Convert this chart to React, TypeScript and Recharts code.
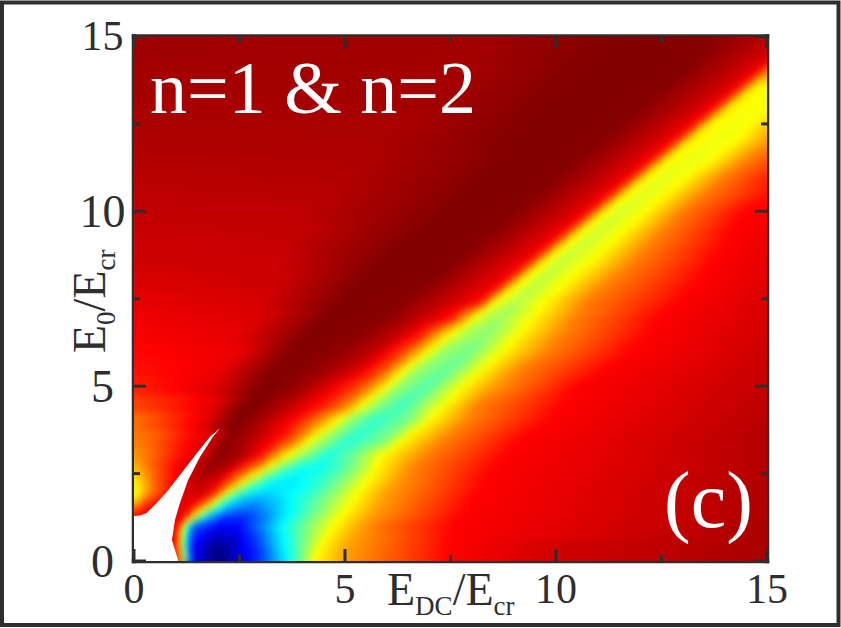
import { Scatter, ScatterChart, XAxis, YAxis } from "recharts";

const CHART_W = 841;
const CHART_H = 628;
const MARGIN_LEFT = 134;
const MARGIN_TOP = 36.5;
const PLOT_W = 633;
const PLOT_H = 524.5;
const INK = "#2e2e2e";
const SERIF = "'Liberation Serif', 'Times New Roman', serif";
// the bands run along this direction (px sideways per px up), so rows are tilted to follow them
const TILT = PLOT_W / PLOT_H;

const xRange = [0, 15];
const yRange = [0, 15];
const tickValues = [0, 2.5, 5, 7.5, 10, 12.5, 15];

// colour scale knots, value 0..100
const jetKnots = [0, 12.5, 37.5, 62.5, 87.5, 100];
const jetColors = [
  [0, 0, 128],
  [0, 0, 255],
  [0, 255, 255],
  [255, 255, 0],
  [255, 0, 0],
  [128, 0, 0],
];

// E0 level of each row
const levels = [
  0, 0.25, 0.5, 0.75, 1, 1.25, 1.5, 1.75, 2, 2.25, 2.5, 2.75, 3, 3.5, 4, 4.5, 5, 5.5, 6, 6.5, 7,
  7.5, 8, 8.5, 9, 9.5, 10, 10.5, 11, 11.5, 12, 12.5, 13, 13.5, 14, 14.5, 15,
];

// read along each row: EDC, value, EDC, value ...
const rowReadings = [
  [0, 88, 1.05, 88, 1.12, 78, 1.18, 62, 1.3, 37, 1.4, 14, 1.9, 2, 2.1, 1, 2.6, 11, 3.1, 20, 3.55, 33, 3.9, 45, 4.3, 62.5, 5, 72, 7.5, 87.5, 10, 92, 15, 96],
  [0, 88, 1.02, 88, 1.07, 78, 1.14, 62, 1.27, 37, 1.38, 12, 1.87, 1, 2.1, 0, 2.5, 9, 3, 17, 3.45, 33, 3.9, 46, 4.35, 62.5, 4.95, 71, 7.5, 87.5, 10, 92, 15, 96],
  [0, 88, 1, 88, 1.05, 78, 1.12, 62, 1.25, 35, 1.38, 15, 1.9, 3, 2.3, 5, 2.9, 18, 3.45, 34, 3.95, 47, 4.45, 62.5, 5.05, 71, 7.5, 87.5, 10, 92, 15, 96],
  [0, 88, 1, 88, 1.08, 75, 1.15, 62, 1.27, 35, 1.4, 18, 1.95, 7, 2.4, 9, 3, 21, 3.46, 35, 4, 48, 4.6, 62.5, 5.2, 71, 7.55, 87.5, 15, 96],
  [0, 88, 1, 88, 1.1, 78, 1.17, 62, 1.3, 37, 1.44, 20, 2.04, 12, 2.5, 13, 3, 25, 3.46, 37, 4.1, 50, 4.72, 62.5, 5.4, 72, 6, 78, 7.6, 87.5, 15, 96],
  [0, 87, 0.7, 90, 1.05, 90, 1.2, 85, 1.32, 72, 1.48, 55, 1.7, 33, 2.1, 17, 2.6, 16, 3.1, 24, 3.55, 35, 4.1, 47, 4.9, 62.5, 5.6, 72, 7.7, 87.5, 15, 95.5],
  [0, 78, 0.3, 87, 0.8, 90, 1.15, 90, 1.35, 86, 1.5, 75, 1.7, 62, 1.95, 42, 2.3, 26, 2.8, 23, 3.3, 30, 4, 42, 4.5, 51, 5.05, 62.5, 5.8, 72, 7.9, 87.5, 15, 95.5],
  [0, 64, 0.4, 82, 0.8, 87, 1.2, 90, 1.45, 90, 1.7, 83, 1.85, 72, 1.98, 62, 2.2, 45, 2.55, 31, 2.95, 28, 3.4, 33, 4, 42, 4.6, 52, 5.2, 62.5, 5.9, 72, 8, 87.5, 15, 95.5],
  [0, 60, 0.53, 78, 0.85, 86, 1.25, 90, 1.6, 93, 1.9, 88, 2.1, 74, 2.27, 62, 2.5, 48, 2.8, 38, 3.2, 34, 3.55, 36, 4.1, 40, 4.57, 47, 5, 56, 5.35, 62.5, 6, 72, 8.2, 87.5, 15, 95.5],
  [0, 62, 0.5, 78, 0.9, 86, 1.2, 91, 1.55, 94, 1.95, 90, 2.3, 78, 2.6, 62, 2.85, 50, 3.2, 38, 3.75, 35, 4.4, 42, 5, 52, 5.5, 62.5, 6.3, 73, 8.3, 87.5, 15, 95.5],
  [0, 66, 0.5, 78, 0.95, 87, 1.3, 91, 1.7, 97, 2.1, 93, 2.6, 76, 2.92, 62, 3.2, 50, 3.55, 40, 4, 37, 4.7, 44, 5.2, 53, 5.65, 62.5, 6.5, 74, 8.4, 87.5, 15, 95],
  [0, 70, 0.5, 79, 1.05, 87.5, 1.4, 92, 1.85, 98, 2.3, 95, 2.95, 77, 3.28, 62, 3.6, 50, 3.95, 41, 4.4, 38, 5, 45, 5.4, 53, 5.75, 62.5, 6.7, 75, 8.6, 87.5, 15, 95],
  [0, 73, 0.45, 78, 1.16, 87.5, 1.6, 92, 2, 99, 2.5, 96, 3, 86, 3.3, 74, 3.65, 62, 4, 52, 4.57, 40, 5.2, 49, 5.85, 62.5, 6.9, 75, 8.8, 87.5, 15, 95],
  [0, 75, 0.5, 78, 1.3, 87, 1.9, 92, 2.2, 99, 2.6, 97, 3.4, 87, 3.9, 75, 4.22, 62, 4.6, 52, 5.15, 41, 6, 50, 6.4, 62.5, 7.4, 75, 9.2, 87.5, 15, 95],
  [0, 76, 1, 84, 1.8, 91, 2.2, 98, 2.5, 100, 3, 96, 3.77, 87.5, 4.35, 75, 4.83, 62, 5.1, 52, 5.7, 42, 6.5, 50, 6.95, 62.5, 7.9, 75, 9.8, 87.5, 15, 94.5],
  [0, 81, 1, 85, 2, 91, 2.6, 99, 2.9, 100, 3.5, 96, 4.4, 87, 4.95, 78, 5.25, 70, 5.45, 62, 5.8, 52, 6.4, 43, 7.4, 62.5, 8.2, 75, 10.2, 87.5, 15, 94],
  [0, 84.5, 1, 87.5, 2, 91, 2.9, 99, 3.3, 100, 4, 97, 4.9, 87.5, 5.4, 80, 5.7, 72, 6, 62, 6.3, 52, 6.95, 45, 7.8, 62.5, 8.5, 72, 10.5, 87.5, 15, 93.5],
  [0, 86, 2, 89, 3.2, 99, 3.6, 100, 4.5, 97.5, 5.2, 92.5, 5.55, 87.5, 5.95, 80, 6.2, 72, 6.45, 62, 6.8, 52, 7.5, 47, 8.3, 63, 9.2, 75, 11.2, 87.5, 15, 93],
  [0, 87, 2.5, 89.5, 3.6, 99, 4, 100, 5, 98, 5.7, 93.5, 6.05, 88, 6.4, 81, 6.7, 72, 7, 62, 7.35, 52, 8, 49, 8.75, 63, 9.8, 75, 11.8, 87.5, 15, 92.5],
  [0, 88, 2.5, 90, 4, 99, 4.4, 100, 5.5, 98.5, 6.2, 94, 6.6, 89, 6.95, 82, 7.2, 72, 7.55, 62, 7.9, 54, 8.4, 51, 9.15, 63, 10.2, 75, 12.2, 87.5, 15, 92],
  [0, 89, 3, 91, 4.4, 99, 4.8, 100, 6, 99, 6.7, 94.5, 7.2, 90, 7.55, 86, 7.75, 78, 7.95, 70, 8.1, 62, 8.45, 55, 8.75, 53, 9.5, 63, 10.5, 75, 12.5, 87.5, 15, 91.5],
  [0, 90, 3, 91.5, 4.8, 99, 5.2, 100, 6.5, 99, 7.2, 95, 7.7, 91.5, 8.2, 88, 8.35, 83, 8.5, 72, 8.62, 63, 9.15, 55, 9.85, 63, 10.8, 75, 13, 87.5, 15, 91],
  [0, 91, 3.5, 92.5, 5.2, 99, 5.6, 100, 7, 99.5, 7.7, 95.5, 8.2, 92, 8.7, 88.5, 8.85, 84, 9, 72, 9.15, 64, 9.6, 56, 10.3, 63, 11.3, 75, 13.4, 87.5, 15, 90.5],
  [0, 92, 3.5, 92.5, 5.6, 99, 6, 100, 7.5, 99.5, 8.2, 95.5, 8.7, 92, 9.2, 88.5, 9.35, 84, 9.5, 72, 9.65, 64, 10.05, 56.5, 10.8, 63, 11.8, 75, 13.7, 87.5, 15, 90],
  [0, 92.5, 3.5, 93, 6, 99, 6.5, 100, 8, 99.5, 8.7, 96, 9.2, 92.5, 9.7, 88.5, 9.85, 84, 10, 72, 10.15, 64, 10.55, 57, 11.25, 63, 12.2, 75, 14, 87.5, 15, 89.5],
  [0, 93, 4, 93.5, 6.5, 99, 7, 100, 8.5, 99.5, 9.2, 96, 9.7, 92.5, 10.2, 88.5, 10.35, 84, 10.5, 72, 10.65, 64, 11.05, 57.5, 11.7, 63, 12.6, 75, 14.2, 87.5, 15, 89],
  [0, 93.5, 4, 94, 7, 99, 7.5, 100, 9, 99.5, 9.7, 96, 10.2, 93, 10.7, 88.5, 10.85, 84, 11, 72, 11.15, 64, 11.55, 58, 12.15, 63, 13, 75, 14.5, 87.5, 15, 88],
  [0, 94, 4.5, 94.5, 7.5, 99, 8, 100, 9.5, 99.5, 10.2, 96, 10.7, 93, 11.2, 88.5, 11.35, 84, 11.5, 72, 11.65, 64, 12.1, 59, 12.65, 63, 13.5, 75, 15, 86],
  [0, 94.5, 5, 95, 7.9, 99, 8.4, 100, 10, 99.5, 10.7, 96, 11.2, 93, 11.7, 88.5, 11.85, 84, 12, 72, 12.15, 64, 12.6, 59.5, 13.15, 63, 14, 75, 15, 84],
  [0, 95, 5.5, 95.5, 8.4, 99, 8.9, 100, 10.5, 99.5, 11.2, 96, 11.7, 93, 12.2, 88.5, 12.35, 84, 12.5, 72, 12.65, 64, 13.2, 60, 13.75, 63, 14.5, 74, 15, 79],
  [0, 95.5, 6, 96, 8.8, 99.5, 9.2, 100, 11, 99.5, 11.7, 96, 12.2, 93, 12.7, 88.5, 12.85, 84, 13, 72, 13.15, 64, 13.8, 60.5, 14.3, 63, 15, 73],
  [0, 96, 6.5, 96, 9.2, 99.5, 9.6, 100, 11.5, 99.5, 12.2, 96, 12.7, 93, 13.2, 88.5, 13.35, 84, 13.5, 72, 13.65, 64, 14.2, 61, 14.7, 63, 15, 68],
  [0, 96, 7, 96.5, 9.6, 99.5, 10, 100, 12, 99.5, 12.7, 96, 13.2, 93.5, 13.7, 88.5, 13.85, 84, 14, 72, 14.15, 64, 14.8, 61.5, 15, 62],
  [0, 96.5, 7.5, 96.5, 10, 99.5, 10.5, 100, 12.5, 99.5, 13.2, 96, 13.7, 93.5, 14.2, 89, 14.35, 84, 14.5, 72, 14.65, 64, 15, 62],
  [0, 96.5, 8, 96.5, 10.4, 99.5, 11, 100, 13, 99.5, 13.7, 96, 14.2, 93.5, 14.7, 89, 14.85, 84, 15, 73],
  [0, 97, 8, 96.5, 10.8, 99.5, 11.5, 100, 13.4, 99.5, 14.2, 96, 14.9, 92.5, 15, 91],
  [0, 97, 8, 96.5, 11.2, 99.5, 12, 100, 13.8, 99, 14.7, 96, 15, 94],
];

// outline of the empty (white) wedge, walked round from the origin
const wedgeX = [0, 0, 0.15, 0.3, 0.54, 0.78, 1.09, 1.49, 1.8, 2.04, 1.87, 1.56, 1.28, 1.09, 0.97, 0.9, 1.05];
const wedgeY = [0, 1.29, 1.3, 1.37, 1.66, 1.98, 2.46, 3.08, 3.55, 3.8, 3.55, 2.97, 2.31, 1.66, 1.17, 0.6, 0];

const rows = levels.map((level, i) => ({ x: 7.5, y: level, i }));
const wedge = wedgeX.map((x, i) => ({ x, y: wedgeY[i] }));

function jet(v: number) {
  let k = 0;
  while (k < jetKnots.length - 2 && v > jetKnots[k + 1]) k++;
  const t = (v - jetKnots[k]) / (jetKnots[k + 1] - jetKnots[k]);
  const c = jetColors[k].map((a, j) => Math.round(a + (jetColors[k + 1][j] - a) * t));
  return `rgb(${c[0]},${c[1]},${c[2]})`;
}

// gradient stops for a row, with the colour scale's knots added so hues stay on the scale
function rowStops(reading: number[]) {
  const out: { offset: number; color: string }[] = [];
  for (let i = 0; i < reading.length; i += 2) {
    const x = reading[i];
    const v = reading[i + 1];
    if (i > 0) {
      const px = reading[i - 2];
      const pv = reading[i - 1];
      const between = jetKnots.filter((k) => k > Math.min(v, pv) && k < Math.max(v, pv));
      if (pv > v) between.reverse();
      between.forEach((k) => {
        out.push({ offset: (px + ((k - pv) / (v - pv)) * (x - px)) / 15, color: jet(k) });
      });
    }
    out.push({ offset: x / 15, color: jet(v) });
  }
  return out;
}

function RowBand(props: any) {
  const { cx, cy, payload } = props;
  const i = payload.i;
  const unit = PLOT_H / 15;
  const left = cx - PLOT_W / 2;
  // rows meet half way to their neighbours, the outer ones run past the frame for the blur
  const below = i === 0 ? 40 : ((levels[i] - levels[i - 1]) / 2) * unit + 0.5;
  const above = i === levels.length - 1 ? 40 : ((levels[i + 1] - levels[i]) / 2) * unit + 0.5;
  return (
    <g>
      <defs>
        <linearGradient
          id={`row-${i}`}
          gradientUnits="userSpaceOnUse"
          x1={left}
          x2={left + PLOT_W}
          y1={cy}
          y2={cy}
          gradientTransform={`matrix(1 0 ${-TILT} 1 ${TILT * cy} 0)`}
        >
          {rowStops(rowReadings[i]).map((s, n) => (
            <stop key={n} offset={s.offset} stopColor={s.color} />
          ))}
        </linearGradient>
      </defs>
      <rect x={left} y={cy - above} width={PLOT_W} height={above + below} fill={`url(#row-${i})`} />
    </g>
  );
}

const isMajor = (v: number) => v % 5 === 0;

function BottomTick({ x, y, payload }: any) {
  const len = isMajor(payload.value) ? 12 : 6;
  return (
    <g>
      <line x1={x} x2={x} y1={y} y2={y - len} stroke={INK} strokeWidth={3} />
      {isMajor(payload.value) && (
        <text x={x} y={y + 42} textAnchor="middle" fontFamily={SERIF} fontSize={42} fill={INK}>
          {payload.value}
        </text>
      )}
    </g>
  );
}

function TopTick({ x, y, payload }: any) {
  const len = isMajor(payload.value) ? 12 : 6;
  return <line x1={x} x2={x} y1={y} y2={y + len} stroke={INK} strokeWidth={3} />;
}

function LeftTick({ x, y, payload }: any) {
  const len = isMajor(payload.value) ? 12 : 6;
  const top = payload.value === 15;
  return (
    <g>
      <line x1={x} x2={x + len} y1={y} y2={y} stroke={INK} strokeWidth={3} />
      {isMajor(payload.value) && (
        <text x={102.5} y={y + (top ? 13.5 : 16)} textAnchor="middle" fontFamily={SERIF} fontSize={top ? 42 : 46} fill={INK}>
          {payload.value}
        </text>
      )}
    </g>
  );
}

function RightTick({ x, y, payload }: any) {
  const len = isMajor(payload.value) ? 12 : 6;
  return <line x1={x} x2={x - len} y1={y} y2={y} stroke={INK} strokeWidth={3} />;
}

const frameLine = { stroke: INK, strokeWidth: 4.5, strokeLinecap: "square" as const };

export default function App() {
  return (
    <div style={{ position: "absolute", left: 0, top: 0, width: CHART_W, height: CHART_H, background: "#fff" }}>
      <style>{`.heat-rows { filter: url(#rowBlur); clip-path: url(#plotClip); }`}</style>
      <ScatterChart width={CHART_W} height={CHART_H} margin={{ top: 0, right: 0, bottom: 0, left: 0 }}>
        <defs>
          <filter id="rowBlur" filterUnits="userSpaceOnUse" x={0} y={-40} width={CHART_W} height={CHART_H + 80} colorInterpolationFilters="sRGB">
            <feGaussianBlur stdDeviation="0 5" />
          </filter>
          <clipPath id="plotClip">
            <rect x={MARGIN_LEFT} y={MARGIN_TOP} width={PLOT_W} height={PLOT_H} />
          </clipPath>
        </defs>
        <rect x={2} y={2.5} width={836.5} height={622.5} fill="none" stroke={INK} strokeWidth={4} />

        <Scatter className="heat-rows" data={rows} dataKey="y" shape={RowBand} isAnimationActive={false} />
        <Scatter data={wedge} dataKey="y" line={{ fill: "#fff", stroke: "none" }} shape={() => <g />} isAnimationActive={false} />

        <XAxis type="number" dataKey="x" domain={xRange} ticks={tickValues} interval={0} height={67} tickSize={0} tickMargin={0} tickLine={false} axisLine={frameLine} tick={BottomTick} allowDataOverflow />
        <XAxis xAxisId="top" orientation="top" type="number" dataKey="x" domain={xRange} ticks={tickValues} interval={0} height={MARGIN_TOP} tickSize={0} tickMargin={0} tickLine={false} axisLine={frameLine} tick={TopTick} allowDataOverflow />
        <YAxis type="number" dataKey="y" domain={yRange} ticks={tickValues} interval={0} width={MARGIN_LEFT} tickSize={0} tickMargin={0} tickLine={false} axisLine={frameLine} tick={LeftTick} allowDataOverflow />
        <YAxis yAxisId="right" orientation="right" type="number" dataKey="y" domain={yRange} ticks={tickValues} interval={0} width={CHART_W - MARGIN_LEFT - PLOT_W} tickSize={0} tickMargin={0} tickLine={false} axisLine={frameLine} tick={RightTick} allowDataOverflow />
      </ScatterChart>
      <svg width={CHART_W} height={CHART_H} style={{ position: "absolute", left: 0, top: 0, pointerEvents: "none" }}>
        <text x={150} y={113} fontFamily={SERIF} fontSize={74} fill="#fff" xmlSpace="preserve">
          n=1 &amp; n=2
        </text>
        <text x={664} y={527} fontFamily={SERIF} fontSize={80} fill="#fff">
          (c)
        </text>
        <text x={387} y={605} fontFamily={SERIF} fontSize={46} fill={INK}>
          E
          <tspan fontSize={27} dy={10}>DC</tspan>
          <tspan dy={-10}>/E</tspan>
          <tspan fontSize={27} dy={10}>cr</tspan>
        </text>
        <text transform="translate(105,353) rotate(-90)" fontFamily={SERIF} fontSize={46} fill={INK}>
          E
          <tspan fontSize={27} dy={10}>0</tspan>
          <tspan dy={-10}>/E</tspan>
          <tspan fontSize={27} dy={10}>cr</tspan>
        </text>
      </svg>
    </div>
  );
}
